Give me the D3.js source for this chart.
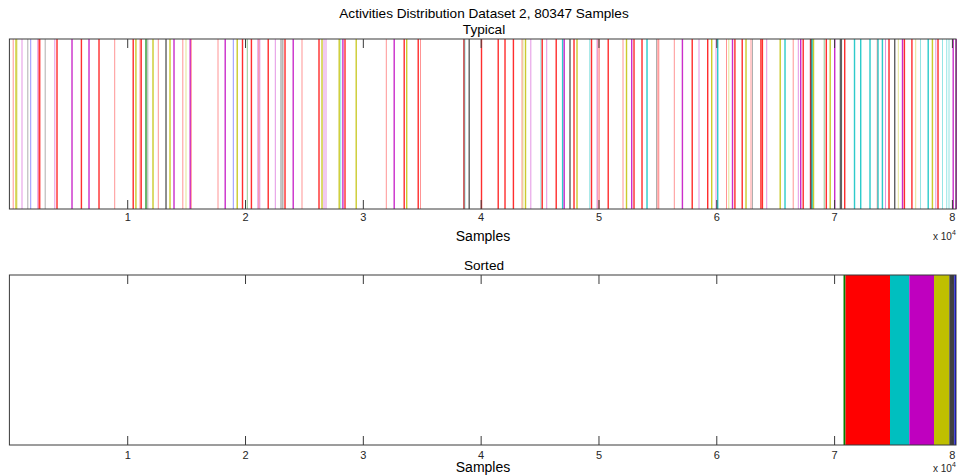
<!DOCTYPE html>
<html>
<head>
<meta charset="utf-8">
<script src="https://cdn.jsdelivr.net/npm/d3@7"></script>
<style>
html,body{margin:0;padding:0;background:#fff;}
svg{display:block;font-family:"Liberation Sans",Arial,Helvetica,sans-serif;}
</style>
</head>
<body>
<svg id="chart" width="957" height="475"></svg>
<script>
// ---- data ----
const totalSamples = 80347;
const activityIds = [0, 1, 2, 3, 4, 5, 6, 7];
const activityColors = ["#ffffff", "#008000", "#ff0000", "#00bfbf", "#bf00bf", "#bfbf00", "#404040", "#0000ff"];
const tickValues = [10000, 20000, 30000, 40000, 50000, 60000, 70000, 80000];
const tickLabels = ["1", "2", "3", "4", "5", "6", "7", "8"];

// Typical: sample index where an activity occurs, its activity id, and its length in samples
const eventStart = [280,501,603,1027,1519,1766,2368,2470,2580,2996,3811,3981,5254,6052,6697,7546,8895,10449,10678,11043,11128,11535,11705,12129,12596,13233,13572,13912,14676,14947,15287,15397,17664,18258,18962,19277,19726,20150,20482,21042,21127,21211,21908,22527,22994,23096,23181,23334,24030,24793,26219,26474,26661,26831,27934,28078,28248,28426,29377,31949,32602,33451,33663,34640,34852,38527,38540,38629,38968,40012,41430,42007,42720,43467,43552,43747,44214,45063,45165,45564,46353,46896,47032,47524,47864,48118,49213,49349,49833,49918,50028,50767,52040,52320,52761,52957,53636,54060,54883,54994,55079,56394,57065,57897,58491,59212,59552,59934,60061,60825,61020,61317,61521,62141,62463,62905,63032,63728,63855,64237,65366,65774,66487,66919,67106,67318,67938,67997,68082,68193,69118,69279,69610,69992,70476,70841,71673,72199,72988,73616,73667,74041,74321,74601,75085,75407,75747,75908,76545,76884,77292,77928,78285,78590,78760,79159,79516,79711,80050,80305];
const eventActivity = [2,5,5,4,6,7,4,2,2,6,4,2,4,2,4,2,2,2,5,2,2,1,6,5,2,6,5,4,2,5,4,2,2,4,7,5,2,1,2,4,2,4,2,4,6,6,6,2,4,2,2,5,4,4,5,3,4,2,5,2,4,2,5,2,2,2,6,3,6,2,2,2,2,2,5,5,4,3,2,4,2,3,4,6,2,5,3,2,4,2,2,2,2,5,4,2,2,3,6,2,2,2,4,2,4,2,5,4,3,2,5,4,2,2,5,2,6,2,2,4,5,3,2,4,4,2,2,6,3,5,1,2,5,4,6,2,3,3,3,2,3,3,4,2,6,5,4,2,2,5,3,3,5,4,2,3,3,3,4,4];
const eventLength = [40,120,40,40,40,40,40,120,40,40,40,120,120,120,120,120,40,120,120,40,120,120,40,120,40,120,120,120,40,40,120,40,40,120,40,120,120,40,120,40,40,40,120,40,40,40,40,120,120,40,120,120,40,40,120,40,120,120,120,40,120,120,120,120,40,120,40,40,120,120,120,120,120,40,40,120,40,40,120,40,120,120,120,120,120,120,40,120,40,40,40,120,40,120,120,120,120,120,40,40,40,40,120,120,40,120,120,40,120,40,40,120,120,120,120,40,40,120,120,40,120,120,40,40,120,120,120,120,120,120,40,120,120,120,200,120,120,120,120,40,120,120,40,120,120,40,120,120,120,40,40,120,120,40,120,40,40,40,120,120];

// Sorted: number of samples per activity id (0 = no activity)
const sortedCounts = [70799, 170, 3777, 1638, 2097, 1298, 441, 127];

// ---- layout ----
const svg = d3.select("#chart");
const x = d3.scaleLinear().domain([0, totalSamples]).range([9.4, 956]);
const panels = [
  {top: 39, bottom: 209, title: "Typical", titleY: 34, pad: 4, labelY: 241, expY: 240},
  {top: 275, bottom: 445, title: "Sorted", titleY: 270, pad: 6, labelY: 472, expY: 472}
];
const color = d3.scaleOrdinal().domain(activityIds).range(activityColors);
const opacity = d3.scaleThreshold().domain([100]).range([0.42, 0.82]);
const axisColor = "#3a3a3a";
const textColor = "#262626";

svg.append("text").attr("x", 484).attr("y", 18).attr("text-anchor", "middle")
  .attr("font-size", 13.6).attr("fill", "#000")
  .text("Activities Distribution Dataset 2, " + totalSamples + " Samples");

panels.forEach((p, i) => {
  const g = svg.append("g");
  g.append("rect").attr("x", x(0)).attr("y", p.top).attr("width", x(totalSamples) - x(0))
    .attr("height", p.bottom - p.top).attr("fill", "#fff");

  if (i === 0) {
    const ev = eventStart.map((s, k) => ({s, a: eventActivity[k], len: eventLength[k]}));
    g.selectAll("rect.ev").data(ev).enter().append("rect").attr("class", "ev")
      .attr("x", d => x(d.s))
      .attr("width", d => Math.max(1, x(d.s + d.len) - x(d.s)))
      .attr("y", p.top).attr("height", p.bottom - p.top)
      .attr("fill", d => color(d.a))
      .attr("fill-opacity", d => opacity(d.len));
  } else {
    let cum = 0;
    const blocks = sortedCounts.map((c, k) => { const b = {a: activityIds[k], s: cum, e: cum + c}; cum += c; return b; });
    g.selectAll("rect.blk").data(blocks.filter(b => b.a !== 0)).enter().append("rect").attr("class", "blk")
      .attr("x", d => x(d.s)).attr("width", d => x(d.e) - x(d.s))
      .attr("y", p.top).attr("height", p.bottom - p.top)
      .attr("fill", d => color(d.a));
  }

  const axB = d3.axisBottom(x).tickValues(tickValues).tickFormat((d, k) => tickLabels[k])
    .tickSizeInner(-9).tickSizeOuter(0).tickPadding(p.pad);
  const gb = g.append("g").attr("transform", `translate(0,${p.bottom})`).call(axB);
  gb.select(".domain").remove();
  gb.selectAll(".tick line").attr("stroke", axisColor);
  gb.selectAll(".tick text").attr("fill", textColor).attr("font-size", 11)
    .attr("font-family", "Liberation Sans, Arial, sans-serif");

  const axT = d3.axisTop(x).tickValues(tickValues).tickFormat("").tickSizeInner(-9).tickSizeOuter(0);
  const gt = g.append("g").attr("transform", `translate(0,${p.top})`).call(axT);
  gt.select(".domain").remove();
  gt.selectAll(".tick line").attr("stroke", axisColor);

  g.append("rect").attr("x", x(0)).attr("y", p.top).attr("width", x(totalSamples) - x(0))
    .attr("height", p.bottom - p.top).attr("fill", "none").attr("stroke", axisColor).attr("stroke-width", 1);

  svg.append("text").attr("x", 484).attr("y", p.titleY).attr("text-anchor", "middle")
    .attr("font-size", 13.6).attr("fill", "#000").text(p.title);

  svg.append("text").attr("x", 483).attr("y", p.labelY).attr("text-anchor", "middle")
    .attr("font-size", 14).attr("fill", "#000").text("Samples");

  const ex = svg.append("text").attr("x", 933).attr("y", p.expY)
    .attr("font-size", 10).attr("fill", textColor);
  ex.append("tspan").text("x 10");
  ex.append("tspan").attr("dy", -5).attr("font-size", 7).text("4");
});
</script>
</body>
</html>
